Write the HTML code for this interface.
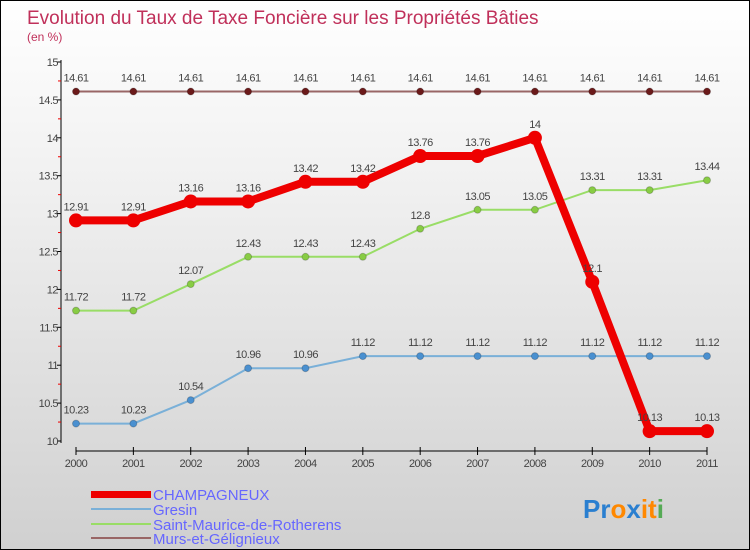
<!DOCTYPE html>
<html><head><meta charset="utf-8"><style>
body{margin:0}
#c{width:748px;height:548px;border:1px solid #000;background:linear-gradient(#fff,#f2f2f2 30%,#d0d0d0);position:relative;font-family:"Liberation Sans",sans-serif}
</style></head><body>
<div id="c">
<svg width="748" height="548" id="s" style="position:absolute;left:0;top:0">
<text x="26" y="23" font-size="19" fill="#c0305a">Evolution du Taux de Taxe Foncière sur les Propriétés Bâties</text>
<text x="26" y="40" font-size="12" fill="#c0305a">(en %)</text>
<g id="ax"></g><g id="ser"></g>
<g font-size="15" font-family="Liberation Sans, sans-serif">
<rect x="90" y="490" width="60" height="7" fill="#e00"/>
<text x="152" y="499" fill="#66f">CHAMPAGNEUX</text>
<rect x="90" y="507" width="60" height="2" fill="#7ab0d8"/>
<text x="152" y="514" fill="#66f">Gresin</text>
<rect x="90" y="522" width="60" height="2" fill="#9d6"/>
<text x="152" y="529" fill="#66f">Saint-Maurice-de-Rotherens</text>
<rect x="90" y="536" width="60" height="2" fill="#966"/>
<text x="152" y="543" fill="#66f">Murs-et-Gélignieux</text>
</g>
<text x="582" y="517" font-size="26" font-weight="bold"><tspan fill="#2a7fd0">Pr</tspan><tspan fill="#f80">o</tspan><tspan fill="#2a7fd0">x</tspan><tspan fill="#f80">it</tspan><tspan fill="#5a5">i</tspan></text>
</svg></div>
<script>
const years=[2000,2001,2002,2003,2004,2005,2006,2007,2008,2009,2010,2011];
const champ=[12.91,12.91,13.16,13.16,13.42,13.42,13.76,13.76,14,12.1,10.13,10.13];
const gresin=[10.23,10.23,10.54,10.96,10.96,11.12,11.12,11.12,11.12,11.12,11.12,11.12];
const stm=[11.72,11.72,12.07,12.43,12.43,12.43,12.8,13.05,13.05,13.31,13.31,13.44];
const murs=[14.61,14.61,14.61,14.61,14.61,14.61,14.61,14.61,14.61,14.61,14.61,14.61];
const yTicks=[10,10.5,11,11.5,12,12.5,13,13.5,14,14.5,15];
const NS="http://www.w3.org/2000/svg";
const X=i=>75+i*(706-75)/(years.length-1);
const Y=v=>440-(v-10)*(440-61)/5;
function mk(t,a,p,n){const e=document.createElementNS(NS,t);for(const k in a)e.setAttribute(k,a[k]);
p.appendChild(e);return e;}
const ax=document.getElementById('ax');
mk('line',{x1:60,y1:59,x2:60,y2:442,stroke:'#000'},ax,'y-axis');
yTicks.forEach(v=>{mk('line',{x1:56,x2:60,y1:Y(v),y2:Y(v),stroke:'#000'},ax,'y-tick');
const t=mk('text',{x:57,y:Y(v)+4,'text-anchor':'end','font-size':11,fill:'#444','letter-spacing':'-0.5'},ax,'y-tick-label');t.textContent=v;
if(v<15)mk('line',{x1:57,x2:60,y1:Y(v+0.25),y2:Y(v+0.25),stroke:'#e00'},ax,'y-minor-tick');});
mk('line',{x1:75,y1:450,x2:706,y2:450,stroke:'#000'},ax,'x-axis');
years.forEach((y,i)=>{mk('line',{x1:X(i),x2:X(i),y1:446,y2:454,stroke:'#000'},ax,'x-tick');
const t=mk('text',{x:X(i),y:466,'text-anchor':'middle','font-size':11,fill:'#444','letter-spacing':'-0.5'},ax,'x-tick-label');t.textContent=y;});
const ser=document.getElementById('ser');
function series(d,col,w,r,fill,name){
mk('polyline',{points:d.map((v,i)=>X(i)+','+Y(v)).join(' '),fill:'none',stroke:col,'stroke-width':w},ser,name+'-line');
d.forEach((v,i)=>{mk('circle',{cx:X(i),cy:Y(v),r:r,fill:fill,stroke:fill==='#e00'?'none':'#0003'},ser,name+'-point');
const t=mk('text',{x:X(i),y:Y(v)-10,'text-anchor':'middle','font-size':11,fill:'#444','letter-spacing':'-0.5'},ser,name+'-value');t.textContent=v;});}
series(murs,'#966',2,3.5,'#6b1a1a','murs');
series(gresin,'#7ab0d8',2,3.5,'#4a90d0','gresin');
series(stm,'#9d6',2,3.5,'#8c4','saint-maurice');
series(champ,'#e00',8,7,'#e00','champagneux');
</script></body></html>
